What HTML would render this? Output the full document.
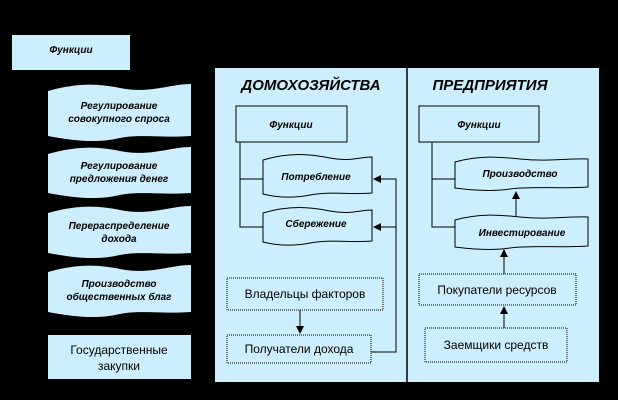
<!DOCTYPE html>
<html><head><meta charset="utf-8"><style>
html,body{margin:0;padding:0;background:#000;}
svg{display:block;}
.bi{font-family:"Liberation Sans",sans-serif;font-weight:bold;font-style:italic;font-size:10px;fill:#000;}
.t{font-family:"Liberation Sans",sans-serif;font-weight:bold;font-style:italic;font-size:15px;fill:#000;}
.r{font-family:"Liberation Sans",sans-serif;font-size:12px;fill:#000;}
</style></head><body>
<svg width="618" height="400" viewBox="0 0 618 400" xmlns="http://www.w3.org/2000/svg">
<rect width="618" height="400" fill="#000"/>
<defs><marker id="a" markerWidth="8" markerHeight="8" refX="7" refY="4" orient="auto" markerUnits="userSpaceOnUse"><path d="M0,0 L8,4 L0,8 Z" fill="#000"/></marker></defs>
<g fill="#cdeefc">
<rect x="12" y="35" width="118" height="35"/>
<path d="M48,91 C80,82 100,84 120,88 C150,94 170,84 191,84 L191,136 C160,138 140,134 120,138 C95,144 70,140 48,136 Z"/>
<path d="M48,154 C80,145 100,147 120,151 C150,157 170,147 191,147 L191,193 C160,195 140,191 120,195 C95,201 70,197 48,193 Z"/>
<path d="M48,213 C80,204 100,206 120,210 C150,216 170,206 191,206 L191,253 C160,255 140,251 120,255 C95,261 70,257 48,253 Z"/>
<path d="M48,272 C80,263 100,265 120,269 C150,275 170,265 191,265 L191,312 C160,314 140,310 120,314 C95,320 70,316 48,312 Z"/>
<rect x="48" y="335" width="143" height="44"/>
<rect x="215" y="68" width="384" height="314"/>
</g>
<line x1="407" y1="68" x2="407" y2="382" stroke="#000" stroke-width="1.5"/>
<text class="bi" x="71" y="53" text-anchor="middle" font-size="11">Функции</text>
<text class="bi" x="119" y="109" text-anchor="middle">Регулирование</text>
<text class="bi" x="119" y="122" text-anchor="middle">совокупного спроса</text>
<text class="bi" x="119" y="169" text-anchor="middle">Регулирование</text>
<text class="bi" x="119" y="182" text-anchor="middle">предложения денег</text>
<text class="bi" x="119" y="229" text-anchor="middle">Перераспределение</text>
<text class="bi" x="119" y="242" text-anchor="middle">дохода</text>
<text class="bi" x="119" y="287" text-anchor="middle">Производство</text>
<text class="bi" x="119" y="300" text-anchor="middle">общественных благ</text>
<text class="r" x="119" y="354" text-anchor="middle">Государственные</text>
<text class="r" x="119" y="370" text-anchor="middle">закупки</text>

<text class="t" x="311" y="90" text-anchor="middle">ДОМОХОЗЯЙСТВА</text>
<rect x="236" y="106" width="111" height="36" fill="none" stroke="#000"/>
<text class="bi" x="291" y="128" text-anchor="middle" font-size="11">Функции</text>
<path d="M240,142 V227 H263 M240,179 H263" fill="none" stroke="#000"/>
<path d="M263,160 C290,152 310,154 330,158 C350,162 360,157 372,157 L372,193 C350,195 330,191 310,195 C290,199 275,197 263,194 Z" fill="none" stroke="#000"/>
<text class="bi" x="316" y="180" text-anchor="middle">Потребление</text>
<path d="M263,213 C290,205 310,207 330,211 C350,215 360,210 372,210 L372,241 C350,243 330,239 310,243 C290,247 275,245 263,242 Z" fill="none" stroke="#000"/>
<text class="bi" x="316" y="227" text-anchor="middle">Сбережение</text>
<path d="M371,352 H396 V179 H374" fill="none" stroke="#000" marker-end="url(#a)"/>
<path d="M396,227 H374" fill="none" stroke="#000" marker-end="url(#a)"/>
<rect x="227" y="278" width="156" height="32" fill="none" stroke="#000" stroke-dasharray="1,1"/>
<text class="r" x="305" y="298" text-anchor="middle">Владельцы факторов</text>
<line x1="300" y1="310" x2="300" y2="333" stroke="#000" marker-end="url(#a)"/>
<rect x="227" y="335" width="144" height="28" fill="none" stroke="#000" stroke-dasharray="1,1"/>
<text class="r" x="299" y="353" text-anchor="middle">Получатели дохода</text>

<text class="t" x="490" y="90" text-anchor="middle">ПРЕДПРИЯТИЯ</text>
<rect x="419" y="106" width="120" height="36" fill="none" stroke="#000"/>
<text class="bi" x="479" y="128" text-anchor="middle" font-size="11">Функции</text>
<path d="M432,142 V227 H455 M432,179 H455" fill="none" stroke="#000"/>
<path d="M455,162 C480,155 500,157 520,159 C550,162 570,158 588,159 L588,187 C560,189 530,186 510,189 C490,192 470,190 455,188 Z" fill="none" stroke="#000"/>
<text class="bi" x="520" y="177" text-anchor="middle">Производство</text>
<path d="M455,220 C480,213 500,215 520,217 C550,220 570,216 588,217 L588,246 C560,248 530,245 510,248 C490,251 470,249 455,247 Z" fill="none" stroke="#000"/>
<text class="bi" x="522" y="236" text-anchor="middle">Инвестирование</text>
<line x1="516" y1="216" x2="516" y2="192" stroke="#000" marker-end="url(#a)"/>
<line x1="504" y1="274" x2="504" y2="250" stroke="#000" marker-end="url(#a)"/>
<rect x="419" y="274" width="157" height="31" fill="none" stroke="#000" stroke-dasharray="1,1"/>
<text class="r" x="497" y="294" text-anchor="middle">Покупатели ресурсов</text>
<line x1="504" y1="328" x2="504" y2="307" stroke="#000" marker-end="url(#a)"/>
<rect x="425" y="328" width="142" height="34" fill="none" stroke="#000" stroke-dasharray="1,1"/>
<text class="r" x="496" y="349" text-anchor="middle">Заемщики средств</text>
</svg>
</body></html>
